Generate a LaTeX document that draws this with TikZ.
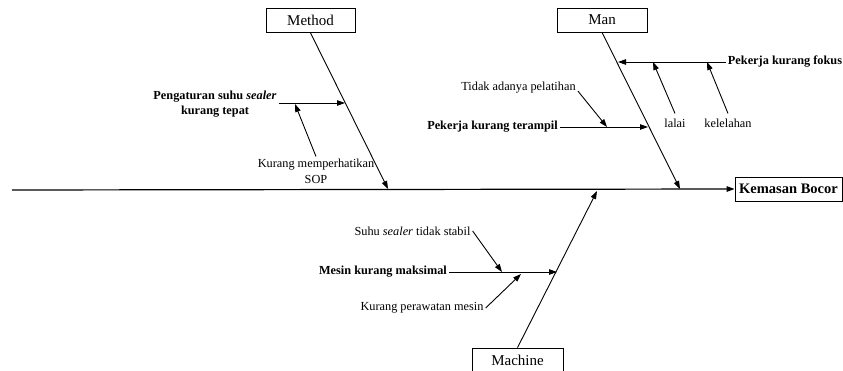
\documentclass[tikz,border=0pt]{standalone}
\usepackage{fontspec}
\setmainfont{Liberation Serif}
\usetikzlibrary{arrows.meta}

\begin{document}
\begin{tikzpicture}[x=1pt,y=-1pt,>={Triangle[length=8pt,width=5.5pt]},line join=miter]
\useasboundingbox (0,0) rectangle (843,371);
\tikzset{catbox/.style={draw,line width=0.8pt,minimum height=24pt,inner sep=0pt,font=\fontsize{15}{17}\selectfont},
  lbl/.style={inner sep=2pt,font=\fontsize{12.3}{15}\selectfont},
  blbl/.style={inner sep=2pt,font=\fontsize{12.3}{15}\selectfont\bfseries},
  spine/.style={line width=1.2pt},bone/.style={line width=0.9pt}}
% head and category boxes
\node[catbox,minimum width=89pt] (method) at (310.5,20.5) {Method};
\node[catbox,minimum width=90pt] (man) at (602,20) {Man};
\node[catbox,minimum width=91pt] (machine) at (517.5,360) {Machine};
\node[catbox,minimum width=107pt,font=\fontsize{14.5}{17}\selectfont\bfseries] (kemasan) at (788.5,189) {Kemasan Bocor};
\coordinate (tail) at (12,190);
\draw[spine,->] (tail) -- (kemasan.west);
% points on the bones
\coordinate (methodTip) at (388,189); \coordinate (manTip) at (680,189); \coordinate (machineTip) at (597,191);
\coordinate (methodMid) at (345,103); \coordinate (sopHit) at (295,104);
\coordinate (manTop) at (618,62); \coordinate (lalaiHit) at (653,62); \coordinate (lelahHit) at (707,62);
\coordinate (manMid) at (648,127); \coordinate (tidakHit) at (607,127);
\coordinate (machineMid) at (557,272); \coordinate (suhuHit) at (502,272); \coordinate (rawatHit) at (521,274);
\draw[bone,->] (method.south) -- (methodTip);
\draw[bone,->] (man.south) -- (manTip);
\draw[bone,->] (machine.north) -- (machineTip);
% Method
\node[blbl,align=center] (pengaturan) at (215,104.5) {Pengaturan suhu \textit{sealer}\\kurang tepat};
\node[lbl,align=center] (sop) at (316,171) {Kurang memperhatikan\\[1pt]SOP};
\draw[bone,->] (pengaturan.east |- methodMid) -- (methodMid);
\draw[bone,->] (sop.north) -- (sopHit);
% Man
\node[blbl] (fokus) at (785,62) {Pekerja kurang fokus};
\node[lbl] (lalai) at (675,123) {lalai};
\node[lbl] (lelah) at (728,123) {kelelahan};
\node[lbl] (tidak) at (518.5,88) {Tidak adanya pelatihan};
\node[blbl] (terampil) at (492.5,127) {Pekerja kurang terampil};
\draw[bone,->] (fokus.west) -- (manTop);
\draw[bone,->] ([yshift=3pt]lalai.north) -- (lalaiHit);
\draw[bone,->] ([yshift=3pt]lelah.north) -- (lelahHit);
\draw[bone,->] (terampil.east) -- (manMid);
\draw[bone,->] ([yshift=-3pt]tidak.east) -- (tidakHit);
% Machine
\node[lbl] (suhu) at (412.5,231) {Suhu \textit{sealer} tidak stabil};
\node[blbl] (mesin) at (383,272) {Mesin kurang maksimal};
\node[lbl] (rawat) at (422,308) {Kurang perawatan mesin};
\draw[bone,->] (mesin.east) -- (machineMid);
\draw[bone,->] (suhu.east) -- (suhuHit);
\draw[bone,->] (rawat.east) -- (rawatHit);
\end{tikzpicture}
\end{document}
